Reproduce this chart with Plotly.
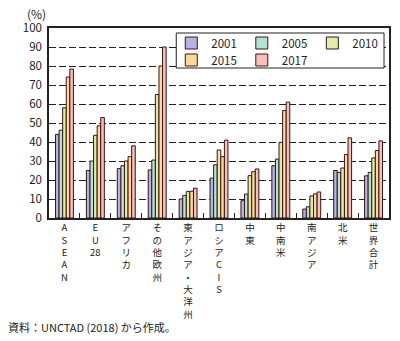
import plotly.graph_objects as go

categories = ["ASEAN", "EU28", "アフリカ", "その他欧州", "東アジア・大洋州", "ロシアCIS",
              "中東", "中南米", "南アジア", "北米", "世界合計"]
tick_labels = ["A<br>S<br>E<br>A<br>N", "E<br>U<br>28", "ア<br>フ<br>リ<br>カ",
               "そ<br>の<br>他<br>欧<br>州", "東<br>ア<br>ジ<br>ア<br>・<br>大<br>洋<br>州",
               "ロ<br>シ<br>ア<br>C<br>I<br>S", "中<br>東", "中<br>南<br>米",
               "南<br>ア<br>ジ<br>ア", "北<br>米", "世<br>界<br>合<br>計"]
years = ["2001", "2005", "2010", "2015", "2017"]
v2001 = [44, 25, 26, 25.3, 10, 21, 9.1, 27.5, 4.7, 25, 22.2]
v2005 = [46.2, 30, 27.5, 30.5, 11.8, 28, 12.6, 31, 5.9, 24, 24]
v2010 = [58, 43.5, 30, 65, 14, 35.8, 22.3, 39.8, 11.6, 26.3, 31.6]
v2015 = [74.2, 48.5, 32.3, 80, 14.1, 32.3, 24.4, 56.6, 12.7, 33.4, 35.5]
v2017 = [78.4, 52.9, 38, 90, 15.7, 41, 25.8, 61, 13.7, 42.2, 40.6]
series = [v2001, v2005, v2010, v2015, v2017]
legend_rows = ["legend", "legend", "legend", "legend2", "legend2"]
colors = ["#b4b4e0", "#b4e2d6", "#dcedae", "#fbd89c", "#f5c0bb"]

FONT = "Noto Sans CJK JP"
W, H = 400, 341
ML, MR, MT, MB = 49, 9, 28, 123
PW, PH = W - ML - MR, H - MT - MB


def px_x(x):
    return (x - ML) / PW


def px_y(y):
    return 1 - (y - MT) / PH


fig = go.Figure()
for y, vals, c, lg in zip(years, series, colors, legend_rows):
    fig.add_trace(go.Bar(
        x=categories, y=vals, name=y, legend=lg,
        marker=dict(color=c, line=dict(color="#3a1414", width=1)),
    ))

LEG_X = 172
leg_common = dict(orientation="h", xanchor="left", yanchor="middle",
                  bgcolor="rgba(0,0,0,0)", borderwidth=0,
                  font=dict(family=FONT, size=11.5, color="#222"),
                  traceorder="normal", itemwidth=30)

fig.update_layout(
    width=W, height=H,
    margin=dict(l=ML, r=MR, t=MT, b=MB),
    paper_bgcolor="white", plot_bgcolor="white",
    font=dict(family=FONT, size=12, color="#222"),
    barmode="group", bargap=0.42, bargroupgap=0,
    showlegend=True,
    legend=dict(x=px_x(LEG_X), y=px_y(43), **leg_common),
    legend2=dict(x=px_x(LEG_X), y=px_y(60), **leg_common),
)
# legend frame
fig.add_shape(type="rect", xref="paper", yref="paper",
              x0=px_x(LEG_X + 5), x1=px_x(386), y0=px_y(33), y1=px_y(68),
              line=dict(color="#222", width=1), fillcolor="white", layer="above")
fig.add_annotation(text="(%)", x=px_x(25), y=px_y(14), xref="paper", yref="paper",
                   showarrow=False, xanchor="left", yanchor="middle",
                   font=dict(family=FONT, size=12, color="#222"))
fig.add_annotation(text="資料：UNCTAD (2018) から作成。", x=px_x(6), y=px_y(327),
                   xref="paper", yref="paper", showarrow=False,
                   xanchor="left", yanchor="middle",
                   font=dict(family=FONT, size=11, color="#222"))

fig.update_xaxes(
    type="category", tickmode="array", tickvals=categories, ticktext=tick_labels,
    showline=True, linecolor="#222", linewidth=1.5, mirror=True,
    ticks="inside", tickson="boundaries", ticklen=5, tickcolor="#222", tickwidth=1,
    showgrid=False, tickfont=dict(family=FONT, size=9.5, color="#222"),
    ticklabelstandoff=0,
)
fig.update_yaxes(
    range=[0, 100], dtick=10, showline=True, linecolor="#222", linewidth=1.5, mirror=True,
    showgrid=True, gridcolor="#222", gridwidth=1, griddash="7px,3px",
    ticks="", tickfont=dict(family=FONT, size=11.5, color="#222"),
    zeroline=False, ticklabelstandoff=3,
)

fig.write_html("out.html")
